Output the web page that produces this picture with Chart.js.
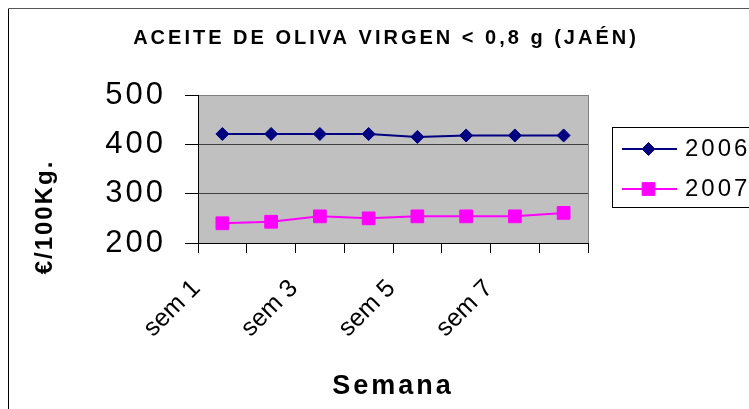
<!DOCTYPE html>
<html>
<head>
<meta charset="utf-8">
<script src="https://cdn.jsdelivr.net/npm/chart.js@4.4.1/dist/chart.umd.min.js"></script>
<style>
  html, body { margin: 0; padding: 0; background: #fff; }
  canvas { display: block; }
</style>
</head>
<body>
<canvas id="grafico" width="749" height="409"></canvas>
<script>
// Datos
const semanas = ['sem 1', 'sem 2', 'sem 3', 'sem 4', 'sem 5', 'sem 6', 'sem 7', 'sem 8'];
const anios = ['2006', '2007'];
const precios2006 = [421, 421, 421, 421, 415, 418, 418, 418];
const precios2007 = [240, 243, 254, 250, 254, 254, 254, 261];
const ticksY = [200, 300, 400, 500];

const fuente = "'Liberation Sans', Arial, sans-serif";
const espaciado = '3px';

// muestra de leyenda: línea + marcador
function muestra(ds) {
    const c = document.createElement('canvas');
    c.width = 77;
    c.height = 20;
    const g = c.getContext('2d');
    g.strokeStyle = ds.borderColor;
    g.lineWidth = 2;
    g.beginPath();
    g.moveTo(22, 10);
    g.lineTo(77, 10);
    g.stroke();
    g.fillStyle = ds.pointBackgroundColor;
    g.strokeStyle = ds.pointBorderColor;
    g.lineWidth = 1;
    if (Chart.helpers && Chart.helpers.drawPoint) {
        Chart.helpers.drawPoint(g, { pointStyle: ds.pointStyle, radius: ds.pointRadius, borderWidth: 1, rotation: 0 }, 48.5, 10);
    } else {
        g.fillRect(42, 4, 13, 13);
    }
    return c;
}

const marco = {
    id: 'marco',
    beforeLayout(chart) {
        chart.ctx.letterSpacing = espaciado;
    },
    beforeDraw(chart) {
        const ctx = chart.ctx;
        const a = chart.chartArea;
        ctx.letterSpacing = espaciado;
        ctx.save();
        ctx.lineWidth = 1;
        ctx.strokeStyle = '#000';
        ctx.beginPath();
        ctx.moveTo(8.5, chart.height);
        ctx.lineTo(8.5, 8.5);
        ctx.stroke();
        ctx.strokeStyle = '#555';
        ctx.beginPath();
        ctx.moveTo(9, 8.5);
        ctx.lineTo(chart.width, 8.5);
        ctx.stroke();
        // fondo del área de trazado
        ctx.fillStyle = '#c0c0c0';
        ctx.fillRect(a.left, a.top, a.right - a.left, a.bottom - a.top);
        ctx.restore();
    },
    beforeDatasetsDraw(chart) {
        const ctx = chart.ctx;
        const a = chart.chartArea;
        ctx.save();
        ctx.strokeStyle = '#808080';
        ctx.lineWidth = 1;
        ctx.beginPath();
        ctx.moveTo(Math.round(a.right) + 0.5, a.top);
        ctx.lineTo(Math.round(a.right) + 0.5, a.bottom);
        ctx.stroke();
        ctx.restore();
    },
    afterDatasetsDraw(chart) {
        // las etiquetas del eje X (z = 1) van sin espaciado
        chart.ctx.letterSpacing = '0px';
    },
    afterDraw(chart) {
        const ctx = chart.ctx;
        const a = chart.chartArea;
        ctx.save();
        // borde de la leyenda
        const hb = chart.legend.legendHitBoxes;
        if (hb && hb.length) {
            const top = Math.round(hb[0].top - 10) + 0.5;
            ctx.strokeStyle = '#000';
            ctx.lineWidth = 1;
            ctx.strokeRect(Math.round(hb[0].left + 8) + 0.5, top, 200, 80);
        }
        // título del eje Y
        ctx.letterSpacing = '2px';
        ctx.translate(a.left - 153, (a.top + a.bottom) / 2 + 48);
        ctx.rotate(-Math.PI / 2);
        ctx.font = 'bold 24px ' + fuente;
        ctx.fillStyle = '#000';
        ctx.textAlign = 'center';
        ctx.textBaseline = 'middle';
        ctx.fillText('€/100Kg.', 0, 0);
        ctx.restore();
    }
};

new Chart(document.getElementById('grafico'), {
    type: 'line',
    data: {
        labels: semanas,
        datasets: [
            {
                label: anios[0],
                data: precios2006,
                borderColor: '#000080',
                backgroundColor: '#000080',
                pointBackgroundColor: '#000080',
                pointBorderColor: '#000080',
                pointStyle: 'rectRot',
                pointRadius: 6.5,
                pointBorderWidth: 1,
                borderWidth: 2,
                tension: 0
            },
            {
                label: anios[1],
                data: precios2007,
                borderColor: '#ff00ff',
                backgroundColor: '#ff00ff',
                pointBackgroundColor: '#ff00ff',
                pointBorderColor: '#ff00ff',
                pointStyle: 'rect',
                pointRadius: 9,
                pointBorderWidth: 1,
                borderWidth: 2,
                tension: 0
            }
        ]
    },
    options: {
        responsive: false,
        animation: false,
        layout: { padding: { left: 23, right: 0, top: 0, bottom: 0 } },
        plugins: {
            title: {
                display: true,
                text: 'ACEITE DE OLIVA VIRGEN < 0,8 g (JAÉN)',
                color: '#000',
                font: { family: fuente, size: 20, weight: 'bold' },
                padding: { top: 26, bottom: 45 }
            },
            legend: {
                position: 'right',
                fullSize: false,
                align: 'center',
                maxWidth: 161,
                labels: {
                    color: '#000',
                    font: { family: fuente, size: 24 },
                    usePointStyle: true,
                    pointStyleWidth: 69,
                    padding: 16,
                    generateLabels(chart) {
                        const base = Chart.defaults.plugins.legend.labels.generateLabels(chart);
                        return base.map((item, i) => {
                            item.pointStyle = muestra(chart.data.datasets[i]);
                            item.fontColor = '#000';
                            return item;
                        });
                    }
                }
            },
            tooltip: { enabled: false }
        },
        scales: {
            x: {
                type: 'category',
                offset: true,
                afterFit(scale) { scale.height = 166; },
                border: { color: '#000', width: 1 },
                grid: {
                    offset: true,
                    drawOnChartArea: false,
                    drawTicks: true,
                    tickLength: 10,
                    tickColor: '#000'
                },
                ticks: {
                    z: 1,
                    autoSkip: false,
                    maxRotation: 45,
                    minRotation: 45,
                    labelOffset: -26,
                    padding: 21,
                    color: '#000',
                    font: { family: fuente, size: 25 },
                    callback(value, index) {
                        return index % 2 === 0 ? this.getLabelForValue(value) : '';
                    }
                },
                title: {
                    display: true,
                    text: 'Semana',
                    color: '#000',
                    font: { family: fuente, size: 27, weight: 'bold' },
                    padding: { top: 0, bottom: 6 }
                }
            },
            y: {
                min: ticksY[0],
                max: ticksY[ticksY.length - 1],
                afterFit(scale) { scale.width = 175; },
                border: { color: '#000', width: 1 },
                grid: {
                    color: ctx => ctx.tick && ctx.tick.value === ticksY[ticksY.length - 1] ? '#808080' : '#404040',
                    tickColor: '#000',
                    tickLength: 13,
                    drawTicks: true
                },
                ticks: {
                    stepSize: ticksY[1] - ticksY[0],
                    padding: 19,
                    color: '#000',
                    font: { family: fuente, size: 31 }
                }
            }
        }
    },
    plugins: [marco]
});
</script>
</body>
</html>
